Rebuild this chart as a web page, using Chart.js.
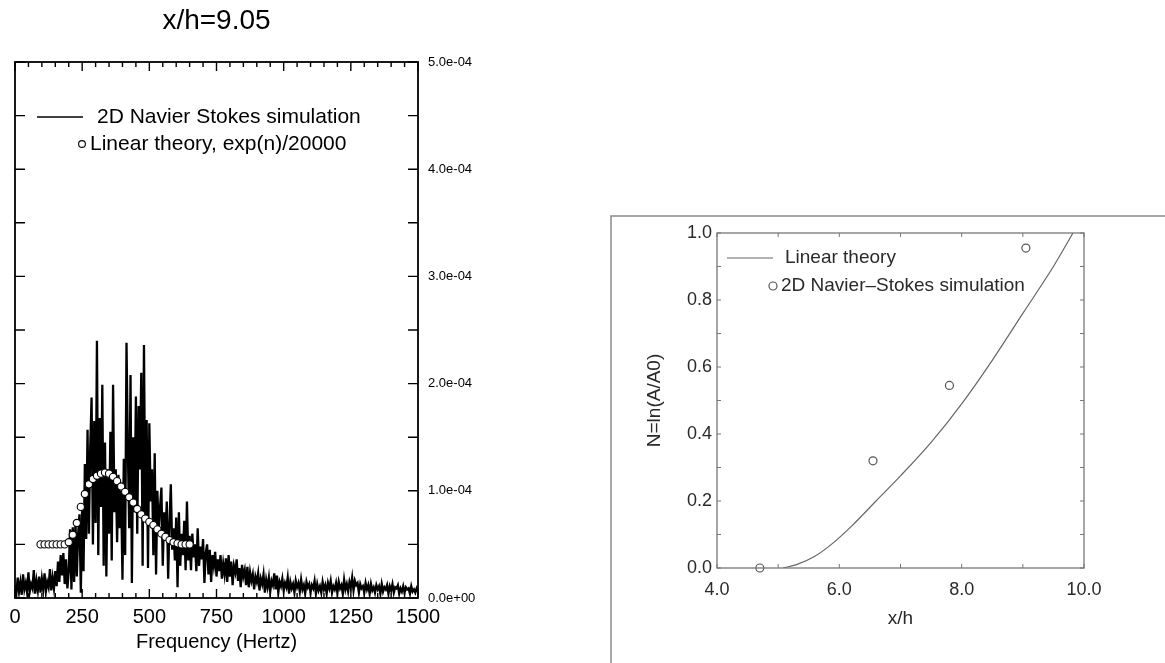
<!DOCTYPE html>
<html>
<head>
<meta charset="utf-8">
<script src="https://cdn.jsdelivr.net/npm/chart.js@4.4.1/dist/chart.umd.min.js"></script>
<style>
  html, body { margin: 0; padding: 0; background: #fff; }
  body { width: 1165px; height: 663px; position: relative; overflow: hidden; }
  #spectrum { position: absolute; left: 0; top: 0; }
  #growth { position: absolute; left: 600px; top: 0; }
</style>
</head>
<body>
<canvas id="spectrum" width="500" height="663"></canvas>
<canvas id="growth" width="565" height="663"></canvas>
<script>
// ---------- Spectrum at x/h = 9.05 (amplitudes in units of 1e-5) ----------
const FREQ_STEP = 5;            // Hz between spectral bins
const AMP_UNIT = 1e-5;          // amplitude unit of the arrays below

const spectrumAmp = [
  1.2, 0.4, 1.9, 0.6, 1.5, 0.3, 2.2, 0.8, 1.4, 0.5,
  2.4, 0.6, 1.3, 0.9, 2.6, 0.4, 1.6, 0.7, 2.0, 0.5,
  1.8, 0.8, 2.3, 0.6, 1.5, 1.0, 2.7, 0.7, 1.9, 0.9,
  2.5, 1.1, 3.4, 1.5, 4.0, 2.1, 4.2, 1.3, 3.6, 0.9,
  2.5, 6.4, 0.8, 6.6, 1.5, 7.1, 2.0, 6.0, 7.8, 0.5,
  8.5, 2.5, 12.5, 5.5, 15.7, 6.0, 14.0, 18.7, 5.0, 16.5,
  7.0, 24.0, 4.0, 16.8, 8.5, 19.9, 3.0, 14.5, 2.0, 12.0,
  6.0, 15.5, 3.5, 19.9, 8.0, 12.0, 5.2, 11.5, 6.5, 10.0,
  1.7, 13.0, 4.0, 23.8, 14.0, 6.5, 20.8, 1.4, 15.0, 8.0,
  18.8, 6.0, 17.9, 12.0, 21.0, 3.0, 23.6, 7.5, 16.6, 2.8,
  16.3, 9.0, 12.0, 4.0, 13.5, 2.2, 10.0, 6.0, 8.5, 10.3,
  3.0, 8.0, 5.5, 9.0, 1.8, 7.0, 10.6, 4.5, 6.5, 3.5,
  7.5, 1.0, 8.0, 3.0, 6.0, 4.0, 7.2, 2.6, 9.0, 3.5,
  5.8, 2.6, 6.0, 3.8, 5.0, 2.5, 6.5, 3.0, 4.8, 3.6,
  5.5, 1.4, 4.2, 5.0, 2.2, 4.5, 1.5, 4.0, 3.0, 4.3,
  2.0, 3.6, 2.5, 4.0, 1.8, 3.2, 2.2, 3.7, 1.5, 4.0,
  2.0, 3.4, 1.2, 3.0, 2.4, 3.6, 1.6, 2.8, 1.0, 3.1,
  2.0, 2.6, 1.2, 2.9, 1.0, 2.4, 1.6, 2.2, 0.8, 2.0,
  1.5, 2.3, 0.7, 1.8, 1.3, 2.2, 0.5, 1.7, 1.0, 1.9,
  0.6, 1.6, 1.2, 2.3, 0.8, 2.1, 0.5, 1.5, 1.1, 1.8,
  0.7, 1.4, 1.0, 1.9, 0.4, 1.5, 0.9, 1.3, 0.5, 1.6,
  1.0, 1.4, 0.6, 1.7, 0.8, 1.2, 0.4, 1.5, 1.0, 1.3,
  0.5, 1.2, 0.9, 1.6, 0.4, 1.3, 0.7, 1.1, 0.5, 1.5,
  0.8, 1.2, 0.4, 1.4, 0.9, 1.6, 0.5, 1.1, 0.8, 1.4,
  0.5, 1.5, 0.9, 1.2, 0.4, 1.7, 0.8, 1.3, 0.6, 1.5,
  1.0, 1.9, 0.7, 1.6, 1.2, 1.4, 0.5, 1.3, 0.9, 1.1,
  0.5, 1.4, 0.8, 1.2, 0.4, 1.3, 0.7, 1.0, 0.5, 1.2,
  0.8, 1.1, 0.4, 1.3, 0.6, 1.0, 0.8, 1.2, 0.4, 1.1,
  0.7, 1.3, 0.5, 1.0, 0.9, 1.2, 0.4, 0.9, 0.6, 1.1,
  0.5, 1.0, 0.8, 0.9, 0.4, 1.1, 0.6, 0.8, 0.5, 0.9,
  0.6
];

// Linear theory, exp(n)/20000
const theoryFreq = [95, 110, 125, 140, 155, 170, 185, 200, 215, 230, 245, 260, 275, 290, 305, 320,
  335, 350, 365, 380, 395, 410, 425, 440, 455, 470, 485, 500, 515, 530, 545, 560, 575, 590, 605,
  620, 635, 650];
const theoryAmp = [5.0, 5.0, 5.0, 5.0, 5.0, 5.0, 5.0, 5.2, 5.9, 7.0, 8.5, 9.7, 10.6, 11.1, 11.4, 11.6,
  11.7, 11.6, 11.3, 10.9, 10.4, 9.9, 9.4, 8.9, 8.3, 7.8, 7.4, 7.1, 6.8, 6.4, 6.0, 5.7, 5.4, 5.2, 5.1,
  5.0, 5.0, 5.0];

const freqTicks = { min: 0, max: 1500, step: 250, minorStep: 50 };
const ampTicks = { min: 0, max: 50, step: 10, minorStep: 5 };

// ---------- Growth N = ln(A/A0) versus x/h ----------
const linearX = [5.08, 5.3, 5.6, 5.9, 6.2, 6.6, 7.0, 7.5, 8.0, 8.5, 9.0, 9.5, 9.82];
const linearN = [0.0, 0.01, 0.035, 0.075, 0.125, 0.2, 0.275, 0.375, 0.49, 0.62, 0.76, 0.9, 1.0];
const simX = [4.7, 6.55, 7.8, 9.05];
const simN = [0.0, 0.32, 0.545, 0.955];

const xhTicks = { min: 4, max: 10, step: 2, minorStep: 1 };
const nTicks = { min: 0, max: 1, step: 0.2, minorStep: 0.1 };

Chart.defaults.font.family = '"Liberation Sans", Arial, Helvetica, sans-serif';
Chart.defaults.animation = false;

function expLabel(v) {
  const s = (v * AMP_UNIT).toExponential(1);
  const parts = s.split('e');
  const sign = parts[1][0] === '-' ? '-' : '+';
  const digits = parts[1].replace(/[+-]/, '').padStart(2, '0');
  return parts[0] + 'e' + sign + digits;
}

// frame, inward tick marks and in-plot legend of the spectrum panel
const spectrumDecor = {
  id: 'spectrumDecor',
  afterDraw(chart) {
    const { ctx, chartArea: a, scales: { x, y } } = chart;
    ctx.save();
    ctx.strokeStyle = '#000';
    ctx.lineWidth = 1.8;
    ctx.strokeRect(a.left, a.top, a.right - a.left, a.bottom - a.top);
    ctx.lineWidth = 1.4;
    ctx.beginPath();
    for (let f = freqTicks.min; f <= freqTicks.max; f += freqTicks.minorStep) {
      const px = x.getPixelForValue(f);
      const len = f % freqTicks.step === 0 ? 9 : 5;
      ctx.moveTo(px, a.bottom); ctx.lineTo(px, a.bottom - len);
      ctx.moveTo(px, a.top); ctx.lineTo(px, a.top + len);
    }
    for (let v = ampTicks.min; v <= ampTicks.max; v += ampTicks.minorStep) {
      const py = y.getPixelForValue(v);
      ctx.moveTo(a.left, py); ctx.lineTo(a.left + 10, py);
      ctx.moveTo(a.right, py); ctx.lineTo(a.right - 10, py);
    }
    ctx.stroke();

    const ds = chart.data.datasets;
    ctx.font = '21px "Liberation Sans", Arial, sans-serif';
    ctx.fillStyle = '#000';
    ctx.textBaseline = 'middle';
    ctx.textAlign = 'left';
    // row 1: line sample
    const r1 = a.top + 55;
    ctx.lineWidth = 1.6;
    ctx.beginPath();
    ctx.moveTo(a.left + 22, r1); ctx.lineTo(a.left + 68, r1);
    ctx.stroke();
    ctx.fillText(ds[0].label, a.left + 82, r1);
    // row 2: circle sample
    const r2 = a.top + 82;
    ctx.lineWidth = 1.1;
    ctx.beginPath();
    ctx.arc(a.left + 67, r2, 3.4, 0, Math.PI * 2);
    ctx.fillStyle = '#fff'; ctx.fill(); ctx.stroke();
    ctx.fillStyle = '#000';
    ctx.fillText(ds[1].label, a.left + 75, r2);
    ctx.restore();
  }
};

new Chart(document.getElementById('spectrum'), {
  type: 'line',
  data: {
    datasets: [
      {
        label: '2D Navier Stokes simulation',
        data: spectrumAmp.map((v, i) => ({ x: i * FREQ_STEP, y: v })),
        borderColor: '#000',
        borderWidth: 2.3,
        pointRadius: 0,
        tension: 0,
        order: 1
      },
      {
        label: 'Linear theory, exp(n)/20000',
        data: theoryFreq.map((f, i) => ({ x: f, y: theoryAmp[i] })),
        showLine: false,
        pointRadius: 3.6,
        pointBackgroundColor: '#fff',
        pointBorderColor: '#000',
        pointBorderWidth: 1.1,
        order: 0
      }
    ]
  },
  options: {
    responsive: false,
    events: [],
    layout: { padding: { left: 15, top: 0, right: 0, bottom: 9 } },
    plugins: {
      legend: { display: false },
      tooltip: { enabled: false },
      title: {
        display: true,
        fullSize: false,
        text: 'x/h=9.05',
        color: '#000',
        font: { size: 28, weight: 'normal' },
        padding: { top: 4, bottom: 24.4 }
      }
    },
    scales: {
      x: {
        type: 'linear',
        min: freqTicks.min, max: freqTicks.max,
        grid: { display: false },
        border: { display: false },
        ticks: {
          stepSize: freqTicks.step, padding: -1, color: '#000', maxRotation: 0,
          font: { size: 20 },
          callback: v => String(v)
        },
        title: { display: true, text: 'Frequency (Hertz)', color: '#000', font: { size: 20 }, padding: 0 },
        afterFit: s => { s.height = 56; }
      },
      y: {
        type: 'linear',
        position: 'right',
        min: ampTicks.min, max: ampTicks.max,
        grid: { display: false },
        border: { display: false },
        ticks: {
          stepSize: ampTicks.step, padding: 2, color: '#000',
          font: { size: 13 },
          callback: v => expLabel(v)
        },
        afterFit: s => { s.width = 82; }
      }
    }
  },
  plugins: [spectrumDecor]
});

// frame, inward tick marks and in-plot legend of the growth panel
const growthDecor = {
  id: 'growthDecor',
  beforeDraw(chart) {
    const { ctx, width, height } = chart;
    ctx.save();
    ctx.strokeStyle = '#8a8a8a';
    ctx.lineWidth = 1.5;
    ctx.beginPath();
    ctx.moveTo(11, height); ctx.lineTo(11, 216); ctx.lineTo(width, 216);
    ctx.stroke();
    ctx.restore();
  },
  afterDraw(chart) {
    const { ctx, chartArea: a, scales: { x, y } } = chart;
    ctx.save();
    ctx.strokeStyle = '#777';
    ctx.lineWidth = 1.3;
    ctx.strokeRect(a.left, a.top, a.right - a.left, a.bottom - a.top);
    ctx.lineWidth = 1;
    ctx.beginPath();
    for (let v = xhTicks.min; v <= xhTicks.max + 1e-9; v += xhTicks.minorStep) {
      const px = x.getPixelForValue(v);
      ctx.moveTo(px, a.bottom); ctx.lineTo(px, a.bottom - 4);
      ctx.moveTo(px, a.top); ctx.lineTo(px, a.top + 4);
    }
    for (let i = 0; i <= Math.round((nTicks.max - nTicks.min) / nTicks.minorStep); i++) {
      const py = y.getPixelForValue(nTicks.min + i * nTicks.minorStep);
      ctx.moveTo(a.left, py); ctx.lineTo(a.left + 4, py);
      ctx.moveTo(a.right, py); ctx.lineTo(a.right - 4, py);
    }
    ctx.stroke();

    const ds = chart.data.datasets;
    ctx.font = '19px "Liberation Sans", Arial, sans-serif';
    ctx.textBaseline = 'middle';
    ctx.textAlign = 'left';
    const r1 = a.top + 25;
    ctx.strokeStyle = '#666';
    ctx.lineWidth = 1.2;
    ctx.beginPath();
    ctx.moveTo(a.left + 10, r1); ctx.lineTo(a.left + 56, r1);
    ctx.stroke();
    ctx.fillStyle = '#2a2a2a';
    ctx.fillText(ds[0].label, a.left + 68, r1);
    const r2 = a.top + 53;
    ctx.strokeStyle = '#555';
    ctx.beginPath();
    ctx.arc(a.left + 56, r2, 4, 0, Math.PI * 2);
    ctx.fillStyle = '#fff'; ctx.fill(); ctx.stroke();
    ctx.fillStyle = '#2a2a2a';
    ctx.fillText(ds[1].label, a.left + 64, r2);
    ctx.restore();
  }
};

new Chart(document.getElementById('growth'), {
  type: 'line',
  data: {
    datasets: [
      {
        label: 'Linear theory',
        data: linearX.map((v, i) => ({ x: v, y: linearN[i] })),
        borderColor: '#666',
        borderWidth: 1.2,
        pointRadius: 0,
        cubicInterpolationMode: 'monotone',
        order: 1
      },
      {
        label: '2D Navier\u2013Stokes simulation',
        data: simX.map((v, i) => ({ x: v, y: simN[i] })),
        showLine: false,
        pointRadius: 4,
        pointBackgroundColor: '#fff',
        pointBorderColor: '#555',
        pointBorderWidth: 1.2,
        clip: false,
        order: 0
      }
    ]
  },
  options: {
    responsive: false,
    events: [],
    layout: { padding: { left: 43, top: 233, right: 81, bottom: 32.6 } },
    plugins: { legend: { display: false }, tooltip: { enabled: false }, title: { display: false } },
    scales: {
      x: {
        type: 'linear',
        min: xhTicks.min, max: xhTicks.max,
        grid: { display: false },
        border: { display: false },
        ticks: {
          stepSize: xhTicks.step, padding: 3, color: '#2a2a2a', maxRotation: 0,
          font: { size: 18 },
          callback: v => v.toFixed(1)
        },
        title: { display: true, text: 'x/h', color: '#2a2a2a', font: { size: 19 }, padding: 0 },
        afterFit: s => { s.height = 62.4; }
      },
      y: {
        type: 'linear',
        min: nTicks.min, max: nTicks.max,
        grid: { display: false },
        border: { display: false },
        ticks: {
          stepSize: nTicks.step, padding: -3, color: '#2a2a2a',
          font: { size: 18 },
          callback: v => v.toFixed(1)
        },
        title: { display: true, text: 'N=ln(A/A0)', color: '#2a2a2a', font: { size: 19 }, padding: 0 },
        afterFit: s => { s.width = 74; }
      }
    }
  },
  plugins: [growthDecor]
});
</script>
</body>
</html>
